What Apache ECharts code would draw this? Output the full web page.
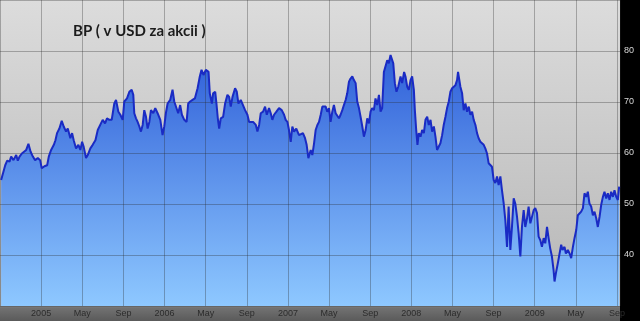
<!DOCTYPE html>
<html><head><meta charset="utf-8">
<script src="https://cdn.jsdelivr.net/npm/echarts@6/dist/echarts.min.js"></script>
<style>html,body{margin:0;padding:0;background:#000;overflow:hidden}#c{width:640px;height:321px}</style>
</head><body><div id="c"></div>
<script>
const titleText = 'BP ( v USD za akcii )';
// time of each observation as decimal year
const yearFrac = [
2004.676,2004.690,2004.709,2004.725,2004.744,2004.757,2004.776,2004.798,2004.811,2004.825,
2004.844,2004.860,2004.879,2004.897,2004.914,2004.933,2004.951,2004.973,2004.992,2005.005,
2005.027,2005.049,2005.062,2005.081,2005.103,2005.116,2005.129,2005.148,2005.167,2005.183,
2005.202,2005.216,2005.237,2005.251,2005.264,2005.283,2005.302,2005.318,2005.332,2005.345,
2005.364,2005.378,2005.399,2005.418,2005.440,2005.459,2005.472,2005.485,2005.499,2005.518,
2005.534,2005.553,
2005.572,2005.593,2005.607,2005.626,2005.642,2005.661,2005.674,2005.696,2005.715,2005.734,
2005.747,2005.755,2005.769,2005.782,2005.796,2005.809,2005.823,2005.836,2005.850,2005.863,
2005.877,2005.890,2005.909,2005.925,2005.944,2005.966,2005.984,2005.998,2006.011,2006.025,
2006.046,2006.065,2006.079,2006.092,2006.111,2006.127,2006.141,2006.160,2006.179,2006.192,
2006.208,2006.227,2006.246,2006.268,2006.286,2006.300,2006.316,2006.335,
2006.357,2006.367,2006.384,2006.394,2006.411,2006.421,2006.432,2006.443,2006.456,2006.475,
2006.491,2006.510,2006.524,2006.537,2006.551,2006.572,2006.586,2006.599,2006.618,2006.632,
2006.653,2006.672,2006.686,2006.699,2006.718,2006.740,2006.753,2006.767,2006.780,2006.799,
2006.815,2006.829,2006.847,2006.861,2006.874,2006.888,2006.907,2006.928,2006.950,2006.969,
2006.982,2006.996,2007.009,2007.023,2007.036,2007.050,2007.068,2007.090,2007.104,2007.122,
2007.139,2007.152,2007.166,
2007.185,2007.198,2007.212,2007.225,2007.239,2007.252,2007.266,2007.279,2007.292,2007.306,
2007.319,2007.333,2007.346,2007.360,2007.373,2007.387,2007.400,2007.414,2007.427,2007.441,
2007.454,2007.468,2007.481,2007.495,2007.508,2007.522,2007.535,2007.549,2007.562,2007.576,
2007.589,2007.603,2007.616,2007.630,2007.643,2007.657,2007.670,2007.683,2007.697,2007.710,
2007.724,2007.738,2007.751,2007.764,2007.778,2007.791,2007.805,2007.818,2007.832,2007.846,
2007.854,2007.867,2007.880,2007.894,2007.913,2007.926,2007.942,2007.953,2007.967,2007.980,
2007.994,2008.007,
2008.021,2008.029,2008.040,2008.050,2008.061,2008.075,2008.088,2008.102,2008.115,2008.129,
2008.142,2008.156,2008.169,2008.183,2008.196,2008.209,2008.223,2008.236,2008.250,2008.263,
2008.277,2008.290,2008.304,2008.317,2008.331,2008.344,2008.358,2008.371,2008.379,2008.390,
2008.398,2008.412,2008.425,2008.439,2008.452,2008.466,2008.479,2008.493,2008.506,2008.520,
2008.533,2008.546,2008.560,2008.573,2008.587,2008.600,2008.614,2008.627,2008.641,2008.654,
2008.668,2008.681,2008.695,2008.708,2008.722,2008.735,2008.749,2008.762,
2008.776,2008.789,2008.803,2008.816,2008.830,2008.843,2008.857,2008.870,2008.884,2008.897,
2008.911,2008.924,2008.938,2008.951,2008.965,2008.978,2008.992,2009.005,2009.019,2009.032,
2009.046,2009.059,2009.073,2009.086,2009.100,2009.113,2009.126,2009.140,2009.153,2009.161,
2009.172,2009.188,2009.202,2009.215,2009.226,2009.242,2009.253,2009.269,2009.283,2009.296,
2009.310,2009.323,2009.337,2009.350,2009.364,2009.377,2009.391,2009.404,2009.418,2009.431,
2009.444,2009.458,2009.472,2009.485,2009.499,2009.512,2009.526,2009.539,2009.553,2009.566,
2009.580,2009.593,2009.607,2009.620,2009.634,2009.647,2009.661,2009.674,2009.685
];
// BP share price, USD
const priceUSD = [
54.7,55.0,57.6,58.5,58.3,59.3,58.6,59.6,58.5,59.3,
59.9,59.6,60.6,61.8,60.3,59.3,58.6,59.0,58.6,57.0,
57.4,57.6,59.3,60.6,61.6,62.5,63.9,64.8,66.3,65.2,
64.2,64.8,62.9,63.9,62.5,60.9,61.6,60.6,62.2,61.2,
59.0,59.6,60.9,61.6,62.5,64.5,64.2,65.8,66.5,65.8,
66.8,66.5,
66.5,69.7,70.4,68.1,67.5,66.5,70.1,70.7,72.0,72.4,
71.4,67.8,66.8,66.1,65.2,64.2,65.5,68.4,67.1,64.8,
66.1,68.4,67.8,68.8,67.8,66.5,63.5,65.2,67.8,69.7,
70.4,72.4,70.1,70.4,67.8,69.4,67.5,66.5,66.1,69.7,
70.1,70.4,70.7,72.7,75.0,76.3,75.3,76.3,
75.9,71.7,69.7,71.7,72.0,69.7,66.8,64.8,66.8,67.1,
69.7,71.4,71.0,69.1,71.0,72.7,72.0,69.7,70.4,70.1,
68.4,67.5,66.1,65.8,66.1,65.5,64.2,65.5,67.8,68.1,
69.1,67.5,68.8,67.8,66.5,67.5,68.1,68.8,68.4,67.5,
66.5,66.1,64.5,62.2,65.2,64.2,64.8,63.5,63.2,63.9,
62.9,61.6,59.0,
60.6,59.6,61.9,64.5,65.5,66.1,67.5,69.1,68.8,69.1,
68.1,68.8,66.1,68.1,69.4,67.8,68.1,66.8,67.5,68.4,
69.4,70.4,71.7,74.0,74.6,75.0,74.3,73.7,70.1,68.8,
67.1,65.2,63.2,64.5,66.8,65.8,68.1,68.8,68.4,70.7,
69.4,71.4,68.1,68.8,75.9,75.6,78.2,77.6,79.2,79.5,
77.6,73.7,72.0,73.0,75.0,73.7,75.9,75.0,73.0,72.4,
74.3,75.0,
72.4,68.4,64.5,61.6,63.9,63.2,64.5,63.9,66.5,67.1,
65.5,66.5,64.2,65.2,63.2,60.6,60.3,61.9,63.5,65.5,
67.1,68.8,70.1,72.0,72.7,72.4,73.3,74.3,75.9,75.6,
73.0,71.7,68.4,69.7,68.1,69.1,67.5,68.1,66.5,65.5,
63.9,62.9,62.2,61.9,61.6,60.9,59.9,58.0,58.3,57.3,
54.7,54.1,55.4,53.7,55.4,52.7,50.1,46.9,
41.6,49.5,41.0,45.5,51.1,50.1,47.5,44.3,39.7,45.5,
48.8,45.5,47.2,49.5,46.2,46.5,48.8,49.2,48.2,43.6,
42.9,41.6,43.3,42.3,45.5,43.3,41.3,39.7,37.1,34.8,
36.4,38.4,40.3,42.0,41.0,41.6,40.3,41.0,40.3,39.4,
41.6,43.3,44.9,47.8,47.5,48.5,49.2,52.1,51.4,52.4,
50.1,49.5,47.8,48.5,47.2,45.5,47.5,49.8,51.4,52.4,
51.1,52.1,50.8,52.4,51.4,52.7,51.4,50.8,53.4
];
const baseYear = 2005;
const monthLabels = {4: 'May', 8: 'Sep'};
const yLabels = [40, 50, 60, 70, 80];

const points = yearFrac.map((t, i) => [(t - baseYear) * 12, priceUSD[i]]);

const chart = echarts.init(document.getElementById('c'), null, {renderer: 'canvas'});
chart.setOption({
  backgroundColor: 'transparent',
  animation: false,
  title: {
    text: titleText, left: 68, top: 19,
    textStyle: {fontFamily: 'Lato', fontSize: 15, fontWeight: 'bold', color: '#1c1c1c'}
  },
  grid: {
    left: 0, right: 20, top: 0, bottom: 15, show: true, borderWidth: 0,
    backgroundColor: {type: 'linear', x: 0, y: 0, x2: 0, y2: 1,
      colorStops: [{offset: 0, color: '#dcdcdc'}, {offset: 1, color: '#b6b6b6'}]}
  },
  graphic: [{
    type: 'rect', z: 2, silent: true,
    shape: {x: 0, y: 306, width: 620, height: 15},
    style: {fill: {type: 'linear', x: 0, y: 0, x2: 0, y2: 1,
      colorStops: [{offset: 0, color: '#8a8a8a'}, {offset: 0.12, color: '#727272'}, {offset: 1, color: '#5a5a5a'}]}}
  }],
  xAxis: {
    type: 'value', min: -4, max: 56.3, interval: 4, z: 3,
    axisLine: {show: false}, axisTick: {show: false},
    splitLine: {show: true, lineStyle: {color: 'rgba(40,40,40,0.32)', width: 1}},
    axisLabel: {
      showMinLabel: false, margin: 3, color: '#2c2c2c', fontSize: 9, fontFamily: 'Liberation Sans',
      formatter: v => {
        const m = Math.round(v);
        const mod = ((m % 12) + 12) % 12;
        if (mod === 0) return String(baseYear + m / 12);
        return monthLabels[mod] || '';
      }
    }
  },
  yAxis: {
    type: 'value', position: 'right', min: 30, max: 90, interval: 10, z: 3,
    axisLine: {show: false}, axisTick: {show: false},
    splitLine: {show: true, lineStyle: {color: 'rgba(40,40,40,0.32)', width: 1}},
    axisLabel: {
      margin: 4, color: '#d8d8d8', fontSize: 9, fontFamily: 'Liberation Sans',
      formatter: v => yLabels.indexOf(v) >= 0 ? String(v) : ''
    }
  },
  series: [{
    type: 'line', data: points, z: 1, showSymbol: false, symbol: 'none',
    lineStyle: {width: 0, opacity: 0},
    areaStyle: {opacity: 1, color: {type: 'linear', x: 0, y: 0, x2: 0, y2: 1,
      colorStops: [{offset: 0, color: '#2f5fd8'}, {offset: 1, color: '#8ec8ff'}]}}
  }, {
    type: 'line', data: points, z: 4, showSymbol: false, symbol: 'none',
    lineStyle: {width: 2, color: '#1a2bc4'}
  }]
});
</script>
</body></html>
